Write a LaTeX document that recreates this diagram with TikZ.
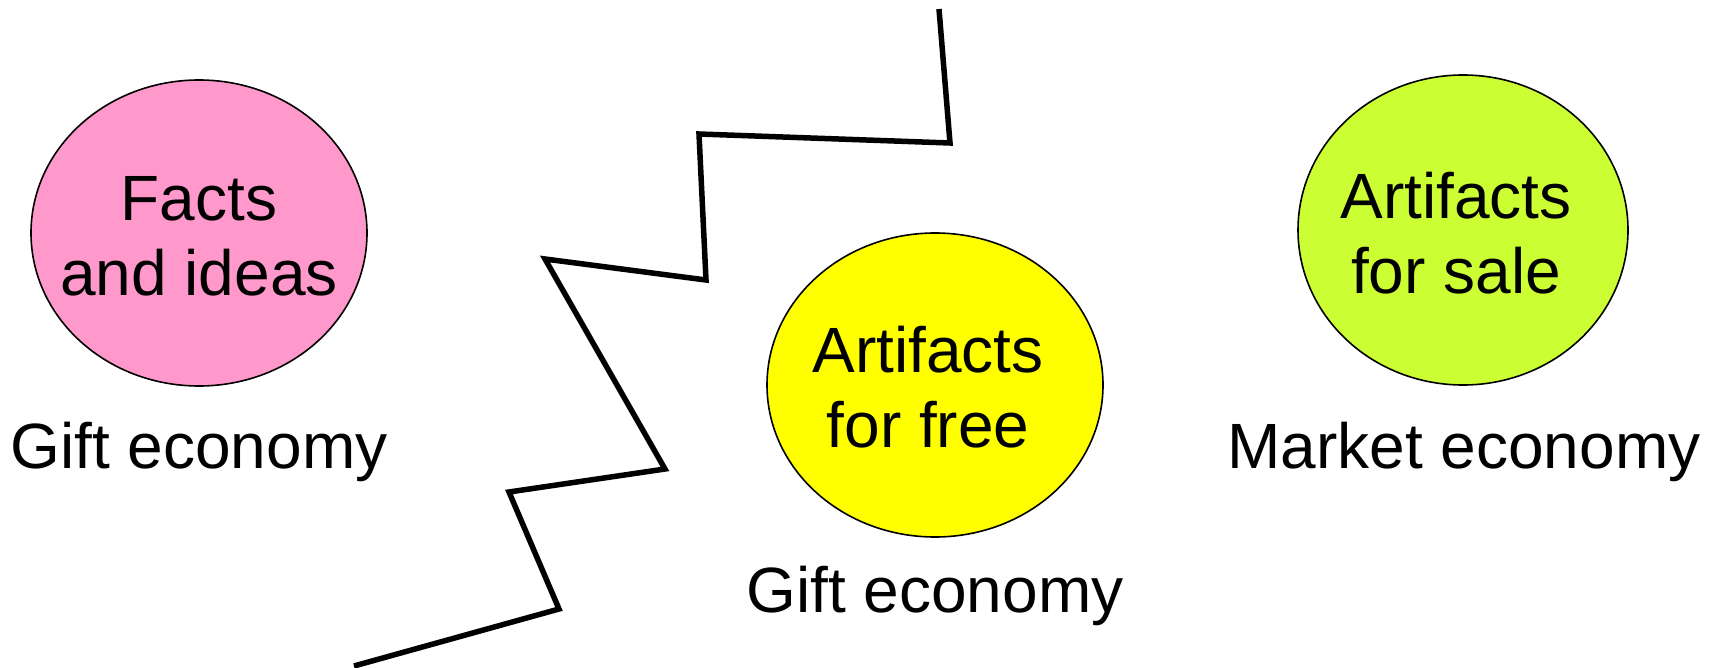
\documentclass[tikz,border=0pt]{standalone}
\usepackage{fontspec}
\setmainfont{Liberation Sans}
\usetikzlibrary{shapes.geometric}
\definecolor{pinkfill}{HTML}{FF99CC}
\definecolor{yellowfill}{HTML}{FFFF00}
\definecolor{greenfill}{HTML}{CCFF33}
\tikzset{
  bubble/.style={ellipse, draw=black, line width=1.6pt, inner sep=0pt},
  bubbletext/.style={inner sep=0pt, align=center, font=\fontsize{64}{75}\selectfont},
  caption/.style={anchor=base, inner sep=0pt, font=\fontsize{64}{75}\selectfont},
  zig/.style={line width=5.5pt, line join=miter}
}
\begin{document}
\begin{tikzpicture}[x=1pt,y=-1pt]
\useasboundingbox (0,0) rectangle (1713,668);
% ellipses
\node[bubble, fill=pinkfill, minimum width=336pt, minimum height=306pt] (facts) at (199,233) {};
\node[bubbletext] (factstext) at (199,236) {Facts\\and ideas};
\node[bubble, fill=yellowfill, minimum width=336pt, minimum height=304pt] (free) at (935,385) {};
\node[bubbletext] (freetext) at (928,387) {Artifacts\\for free};
\node[bubble, fill=greenfill, minimum width=330pt, minimum height=310pt] (sale) at (1463,230) {};
\node[bubbletext] (saletext) at (1456,233) {Artifacts\\for sale};
% captions
\node[caption] (gift1) at (199,468) {Gift economy};
\node[caption] (gift2) at (935,612) {Gift economy};
\node[caption] (market) at (1464,468) {Market economy};
% zigzag
\coordinate (z1) at (939,9);
\coordinate (z2) at (950,143);
\coordinate (z3) at (699,134);
\coordinate (z4) at (706,280);
\coordinate (z5) at (545,259);
\coordinate (z6) at (665,469);
\coordinate (z7) at (509,492);
\coordinate (z8) at (559,609);
\coordinate (z9) at (354,666);
\draw[zig] (z1) -- (z2) -- (z3) -- (z4) -- (z5) -- (z6) -- (z7) -- (z8) -- (z9);
\end{tikzpicture}
\end{document}
